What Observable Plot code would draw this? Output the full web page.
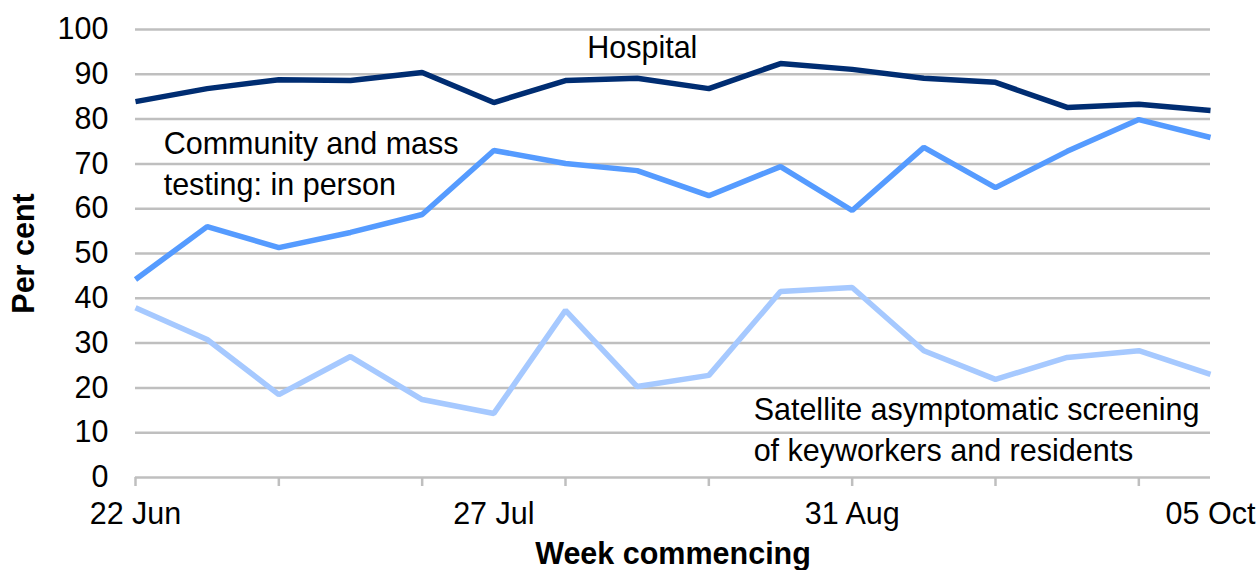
<!DOCTYPE html>
<html>
<head>
<meta charset="utf-8">
<script src="https://cdn.jsdelivr.net/npm/d3@7"></script>
<script src="https://cdn.jsdelivr.net/npm/@observablehq/plot@0.6"></script>
<style>
  html, body { margin: 0; padding: 0; background: #fff; }
  #chart svg { display: block; }
  g[aria-label="y-axis label"] text, g[aria-label="x-axis label"] text { font-weight: bold; }
</style>
</head>
<body>
<div id="chart"></div>
<script>
// Week commencing dates (2020)
const weeks = ["2020-06-22","2020-06-29","2020-07-06","2020-07-13","2020-07-20","2020-07-27",
  "2020-08-03","2020-08-10","2020-08-17","2020-08-24","2020-08-31","2020-09-07",
  "2020-09-14","2020-09-21","2020-09-28","2020-10-05"];
const hospital  = [83.9, 86.8, 88.8, 88.6, 90.4, 83.7, 88.6, 89.1, 86.8, 92.4, 91.1, 89.1, 88.2, 82.6, 83.3, 81.9];
const community = [44.2, 56.0, 51.3, 54.7, 58.7, 73.0, 70.1, 68.5, 62.9, 69.4, 59.6, 73.7, 64.7, 72.8, 79.9, 75.9];
const satellite = [37.9, 30.8, 18.5, 27.0, 17.4, 14.3, 37.3, 20.3, 22.8, 41.5, 42.4, 28.3, 21.9, 26.8, 28.3, 23.0];
const seriesNames = ["Hospital", "Community", "Satellite"];
const seriesColors = ["#002d72", "#559bff", "#a6c9ff"];
const yTicks = [0, 10, 20, 30, 40, 50, 60, 70, 80, 90, 100];
const xTickMarks = ["2020-06-22","2020-07-06","2020-07-20","2020-08-03","2020-08-17","2020-08-31","2020-09-14","2020-09-28"];
const xTickLabels = ["2020-06-22","2020-07-27","2020-08-31","2020-10-05"];
const annoText = ["Hospital", "Community and mass\ntesting: in person", "Satellite asymptomatic screening\nof keyworkers and residents"];
const annoDate = ["2020-08-10T12:00", "2020-06-24T18:00", "2020-08-21T09:00"];
const annoValue = [95.8, 70.6, 11.2];
const annoAnchor = ["middle", "start", "start"];

const parse = s => new Date(s + (s.length === 10 ? "T00:00:00Z" : "Z"));
const rows = [];
[hospital, community, satellite].forEach((vals, si) => {
  vals.forEach((v, i) => rows.push({series: seriesNames[si], date: parse(weeks[i]), value: v}));
});
const annos = annoText.map((t, i) => ({text: t, date: parse(annoDate[i]), value: annoValue[i], anchor: annoAnchor[i]}));

const font = "'Liberation Sans', Arial, sans-serif";
const fs = 30.5;
const chart = Plot.plot({
  width: 1258,
  height: 570,
  marginLeft: 135,
  marginRight: 48,
  marginTop: 29,
  marginBottom: 93,
  style: {fontFamily: font, fontSize: fs + "px", color: "#000", background: "#fff"},
  x: {type: "utc", domain: [parse(weeks[0]), parse(weeks[weeks.length - 1])]},
  y: {domain: [0, 100]},
  color: {domain: seriesNames, range: seriesColors},
  marks: [
    Plot.gridY(yTicks, {stroke: "#bfbfbf", strokeOpacity: 1, strokeWidth: 2.5}),
    Plot.axisY(yTicks, {tickSize: 0, tickPadding: 27, fontSize: fs, label: "Per cent", labelAnchor: "center", labelArrow: "none", labelOffset: 123}),
    Plot.axisX(xTickMarks.map(parse), {tickSize: 9, tickFormat: () => "", stroke: "#bfbfbf", strokeWidth: 2.5, label: null}),
    Plot.axisX(xTickLabels.map(parse), {tickSize: 0, tickPadding: 25, fontSize: fs, tickFormat: d3.utcFormat("%d %b"), label: "Week commencing", labelAnchor: "center", labelArrow: "none", labelOffset: 86}),
    Plot.line(rows, {x: "date", y: "value", z: "series", stroke: "series", strokeWidth: 5.5, strokeLinejoin: "miter", strokeLinecap: "butt"}),
    Plot.text(annos.filter(d => d.anchor === "middle"), {x: "date", y: "value", text: "text", textAnchor: "middle", lineAnchor: "middle", fontSize: fs, fill: "#000"}),
    Plot.text(annos.filter(d => d.anchor === "start"), {x: "date", y: "value", text: "text", textAnchor: "start", lineAnchor: "middle", lineHeight: 1.35, fontSize: fs, fill: "#000"})
  ]
});
document.getElementById("chart").appendChild(chart);
</script>
</body>
</html>
